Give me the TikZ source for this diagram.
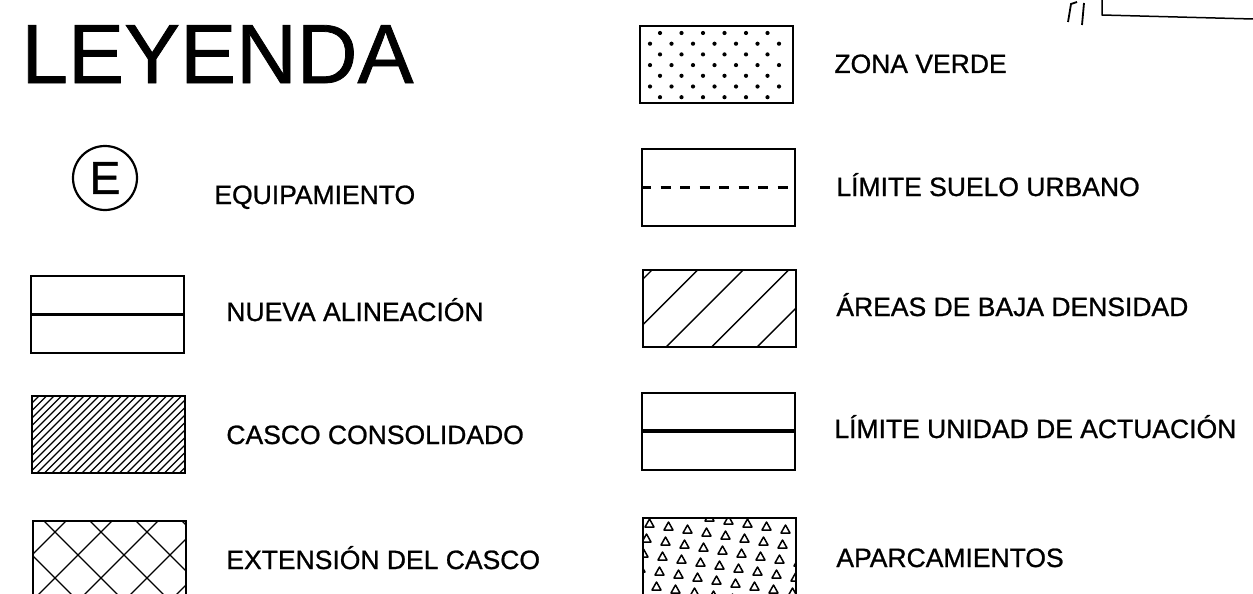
\documentclass[tikz,border=0pt]{standalone}
\usepackage{fontspec}
\setmainfont{Liberation Sans}
\newfontfamily\scanfont{Liberation Sans}[FakeBold=0.9]
\usetikzlibrary{calc}

\tikzset{
    swatch/.style={draw, line width=1.6pt, rectangle, inner sep=0pt,
        minimum width=153pt, minimum height=77pt, anchor=north west},
    legtext/.style={anchor=base west, inner sep=0pt,
        font=\scanfont\fontsize{26.5}{30}\selectfont},
}

\begin{document}
\begin{tikzpicture}[
        x=1pt, y=-1pt, thick,
    ]

    \fill[white] (0,0) rectangle (1253,594);
    \useasboundingbox (0,0) rectangle (1253,594);

    % title and equipment symbol
    \node[anchor=base west, inner sep=0pt,
          font=\scanfont\fontsize{84}{90}\selectfont]
        (title) at (21,83) {LEYENDA};
    \node[circle, draw, line width=2.2pt, minimum size=64pt, inner sep=0pt,
          font=\scanfont\fontsize{46}{50}\selectfont] (equip) at (105,178) {E};

    % swatches, left column
    \node[swatch] (nueva) at (30,275) {};
    \node[swatch] (casco) at (31,395) {};
    \node[swatch, minimum height=90pt] (ext) at (32,520) {};

    % swatches, right column
    \node[swatch] (verde) at (639,25) {};
    \node[swatch] (suelo) at (641,148) {};
    \node[swatch] (areas) at (642,269) {};
    \node[swatch] (unidad) at (641,392) {};
    \node[swatch, minimum height=90pt] (aparc) at (642,517) {};

    % lines
    \draw[line width=3.4pt] (nueva.west) -- (nueva.east);
    \draw[line width=3.8pt] (unidad.west) -- (unidad.east);
    \draw[line width=3.4pt, dash pattern=on 10pt off 9.5pt]
        (suelo.west) -- (suelo.east);

    % casco consolidado
    \begin{scope}
        \clip (casco.south west) rectangle (casco.north east);
        \foreach \c in {420,427.5,...,665}
            \draw[line width=1.4pt] ({\c-390},390) -- ({\c-480},480);
    \end{scope}

    % extension del casco
    \begin{scope}
        \clip (ext.south west) rectangle (ext.north east);
        \foreach \c in {541,587,...,817}
            \draw[line width=1.4pt] ({\c-510},510) -- ({\c-610},610);
        \foreach \d in {-569,-523,...,-339}
            \draw[line width=1.4pt] ({\d+510},510) -- ({\d+610},610);
    \end{scope}

    % areas de baja densidad
    \begin{scope}
        \clip (areas.south west) rectangle (areas.north east);
        \foreach \c in {922,967.5,...,1110}
            \draw[line width=1.4pt] ({\c-260},260) -- ({\c-355},355);
    \end{scope}

    % zona verde
    \foreach \j in {0,2,4,6}
        \foreach \i in {0,...,5}
            \fill ({660+21.5*\i},{33+10.7*\j}) circle (2.1pt);
    \foreach \j in {1,3,5}
        \foreach \i in {0,...,6}
            \fill ({650+21.5*\i},{33+10.7*\j}) circle (2.1pt);

    % aparcamientos
    \begin{scope}
        \clip (aparc.south west) rectangle (aparc.north east);
        \foreach \i in {-1,...,8}
            \foreach \j in {-1,...,6}
                \draw[line width=1.5pt, line join=round]
                    ({645+19*\i-3*\j},{527+3*\i+15*\j}) -- ++(4.5,-8) -- ++(4.5,8) -- cycle;
    \end{scope}

    % texts
    \node[legtext] (equiptext) at (214,204) {EQUIPAMIENTO};
    \node[legtext] (nuevatext) at (226,321) {NUEVA ALINEACIÓN};
    \node[legtext] (cascotext) at (226,444) {CASCO CONSOLIDADO};
    \node[legtext] (exttext) at (226,569) {EXTENSIÓN DEL CASCO};
    \node[legtext] (verdetext) at (834,73) {ZONA VERDE};
    \node[legtext] (suelotext) at (836,196) {LÍMITE SUELO URBANO};
    \node[legtext] (areastext) at (836,316) {ÁREAS DE BAJA DENSIDAD};
    \node[legtext] (unidadtext) at (834,438) {LÍMITE UNIDAD DE ACTUACIÓN};
    \node[legtext] (aparctext) at (836,567) {APARCAMIENTOS};

    % stamp corner
    \draw[line width=1.5pt] (1102,0) -- (1102,15) -- (1253,19);
    \draw[line width=1.8pt] (1068,22) -- (1071,4) -- (1077,2);
    \draw[line width=1.8pt] (1082,25) -- (1084,3);

\end{tikzpicture}
\end{document}
